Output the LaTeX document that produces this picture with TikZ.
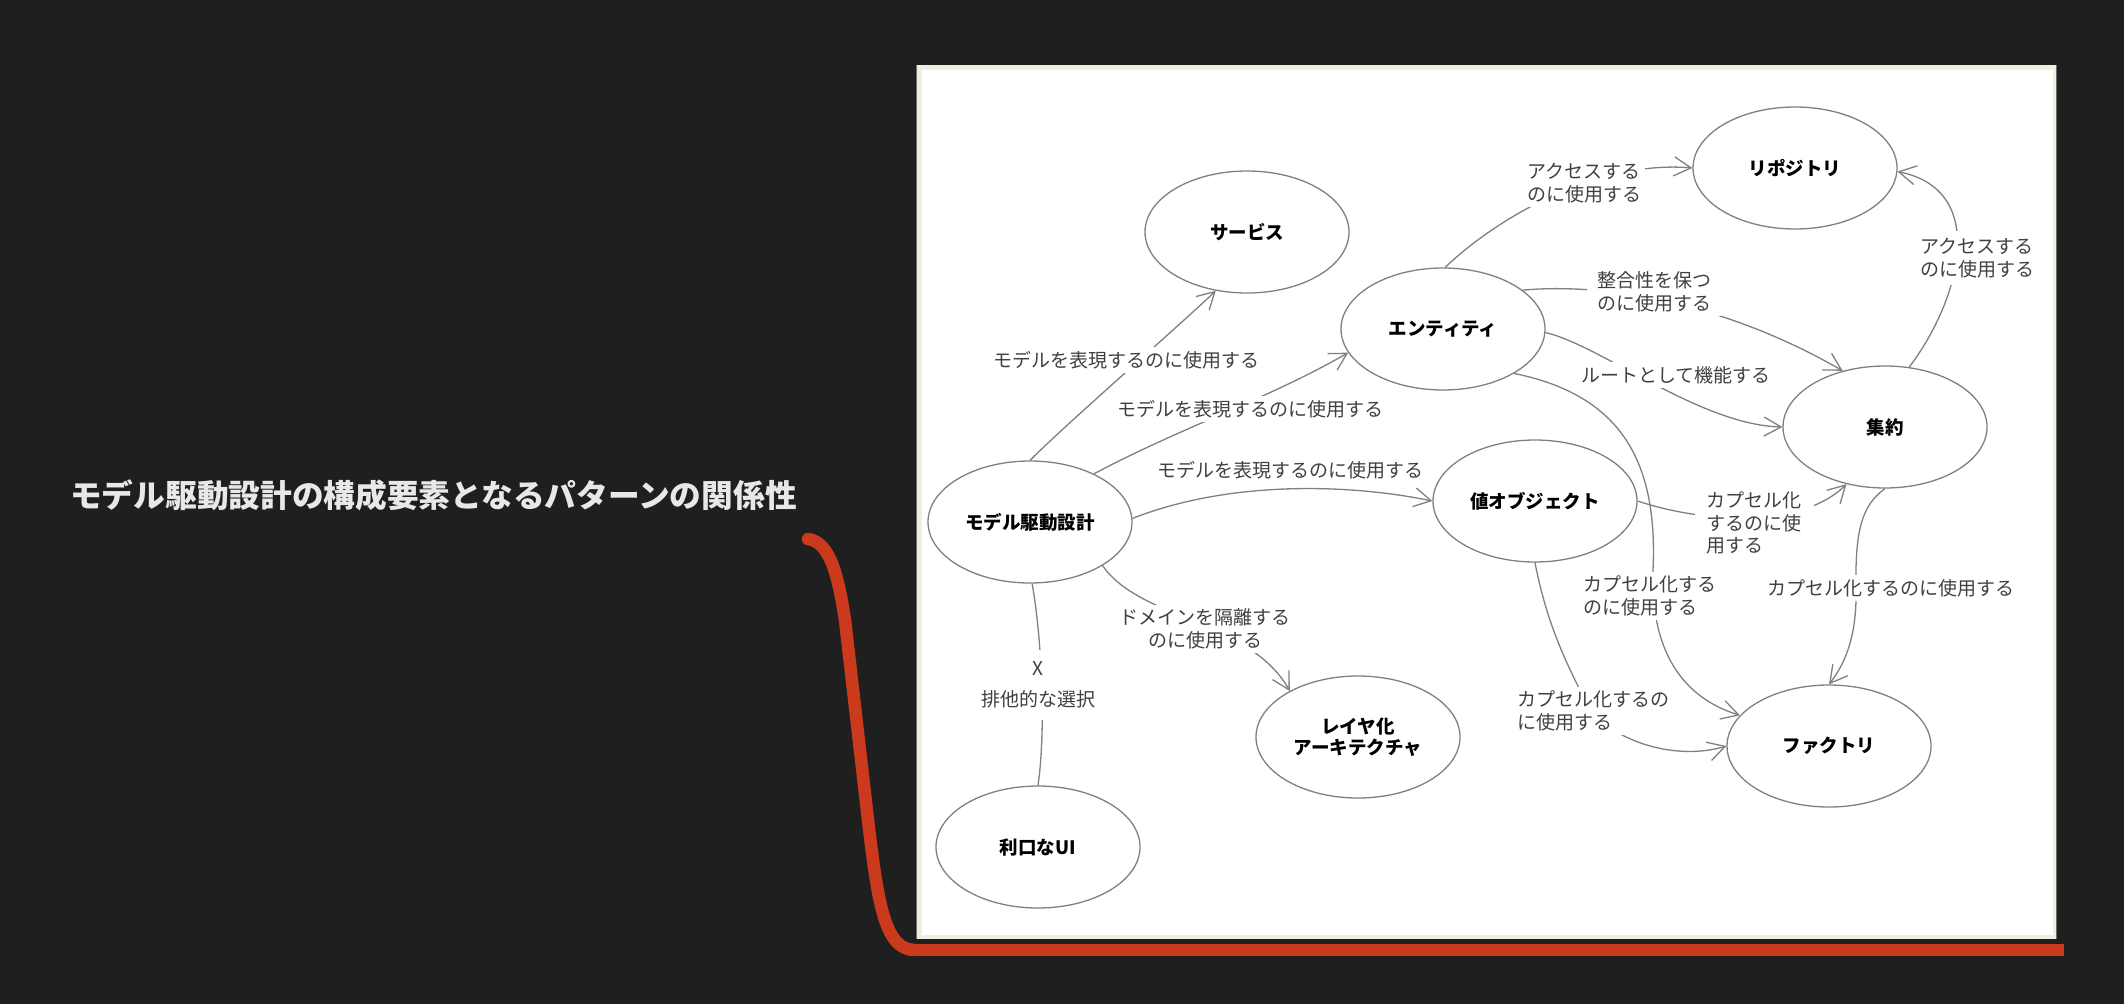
\documentclass[tikz,border=0pt]{standalone}
\usepackage{fontspec}
\setmainfont{Noto Sans CJK JP}
\usetikzlibrary{arrows.meta,shapes.geometric}
\definecolor{bg}{RGB}{31,31,31}
\definecolor{cream}{RGB}{238,240,222}
\definecolor{framegray}{RGB}{110,110,110}
\definecolor{edgegray}{RGB}{128,128,128}
\definecolor{lblgray}{RGB}{64,64,64}
\definecolor{redline}{RGB}{204,58,30}
\definecolor{titlegray}{RGB}{232,232,232}
\begin{document}
\begin{tikzpicture}[x=1pt,y=-1pt,
  ent/.style={ellipse, draw=edgegray, line width=1.3pt, fill=white,
    minimum width=204pt, minimum height=122pt, inner sep=0pt,
    font=\fontsize{18.5}{21}\selectfont\bfseries, text=black, align=center},
  lbl/.style={fill=white, inner sep=4pt, font=\fontsize{19}{22.5}\selectfont,
    text=lblgray, align=left},
  conn/.style={draw=edgegray, line width=1.3pt, -{Straight Barb[length=17pt,width=19pt]}},
  plainconn/.style={draw=edgegray, line width=1.3pt},
  redpath/.style={draw=redline, line width=12.5pt}
]
\useasboundingbox[fill=bg] (0,0) rectangle (2124,1004);

% frame
\fill[cream] (916,65) rectangle (2057,939);
\fill[white] (922,70) rectangle (2053,935);
\draw[framegray, line width=1pt] (916.5,65) -- (916.5,939);
\draw[framegray, line width=1pt] (2056.5,65) -- (2056.5,939);

% title
\node[anchor=west, text=titlegray, font=\fontsize{31.7}{36}\selectfont\bfseries, inner sep=0pt] (title) at (70,495) {モデル駆動設計の構成要素となるパターンの関係性};

% red line
\draw[redpath, line cap=round] (808,539) .. controls (830,542) and (838,575) .. (845,620) -- (868,820) .. controls (878,905) and (885,950) .. (915,950);
\draw[redpath] (910,950) -- (2064,950);

% nodes
\node[ent] (svc) at (1247,232) {サービス};
\node[ent] (ent) at (1443,329) {エンティティ};
\node[ent] (rep) at (1795,168) {リポジトリ};
\node[ent] (agg) at (1885,427) {集約};
\node[ent] (vo)  at (1535,501) {値オブジェクト};
\node[ent] (mdd) at (1030,522) {モデル駆動設計};
\node[ent] (lay) at (1358,737) {レイヤ化\\アーキテクチャ};
\node[ent] (ui)  at (1038,847) {利口なUI};
\node[ent] (fac) at (1829,746) {ファクトリ};

% connectors
\draw[conn] (mdd.90) .. controls (1065,425) and (1180,325) .. (svc.242);
\draw[conn] (mdd.37) .. controls (1180,428) and (1270,398) .. (ent.194);
\draw[conn] (mdd.2) .. controls (1230,480) and (1350,484) .. (vo.180);
\draw[conn] (mdd.329) .. controls (1140,620) and (1250,620) .. (lay.146);
\draw[plainconn] (mdd.272) .. controls (1042,640) and (1046,730) .. (ui.90);
\draw[conn] (ent.88) .. controls (1500,215) and (1600,160) .. (rep.180);
\draw[conn] (ent.26) .. controls (1600,283) and (1720,300) .. (agg.127);
\draw[conn] (ent.358) .. controls (1600,345) and (1700,425) .. (agg.180);
\draw[conn] (agg.68) .. controls (1960,300) and (1990,190) .. (rep.358);
\draw[conn] (vo.0) .. controls (1700,522) and (1800,530) .. (agg.236);
\draw[conn] (ent.328) .. controls (1620,395) and (1658,460) .. (1653,570) .. controls (1650,660) and (1690,700) .. (fac.161);
\draw[conn] (vo.270) .. controls (1548,630) and (1570,670) .. (1590,710) .. controls (1620,745) and (1680,760) .. (fac.180);
\draw[conn] (agg.270) .. controls (1862,505) and (1855,530) .. (1856,588) .. controls (1857,630) and (1848,660) .. (fac.90);

% labels
\node[lbl] (l1) at (1126,360) {モデルを表現するのに使用する};
\node[lbl] (l2) at (1250,409) {モデルを表現するのに使用する};
\node[lbl, fill=none] (l3) at (1290,470) {モデルを表現するのに使用する};
\node[lbl, align=center] (l4) at (1205,629) {ドメインを隔離する\\のに使用する};
\node[lbl, align=center, inner ysep=12pt] (l5) at (1038,685) {X\\[8pt]排他的な選択};
\node[lbl] (l6) at (1584,183) {アクセスする\\のに使用する};
\node[lbl, inner xsep=10pt] (l7) at (1654,292) {整合性を保つ\\のに使用する};
\node[lbl] (l8) at (1676,375) {ルートとして機能する};
\node[lbl, inner ysep=7pt] (l9) at (1977,258) {アクセスする\\のに使用する};
\node[lbl, inner xsep=12pt] (l10) at (1754,523) {カプセル化\\するのに使\\用する};
\node[lbl] (l11) at (1650,596) {カプセル化する\\のに使用する};
\node[lbl] (l12) at (1593,711) {カプセル化するの\\に使用する};
\node[lbl] (l13) at (1891,588) {カプセル化するのに使用する};
\end{tikzpicture}
\end{document}
